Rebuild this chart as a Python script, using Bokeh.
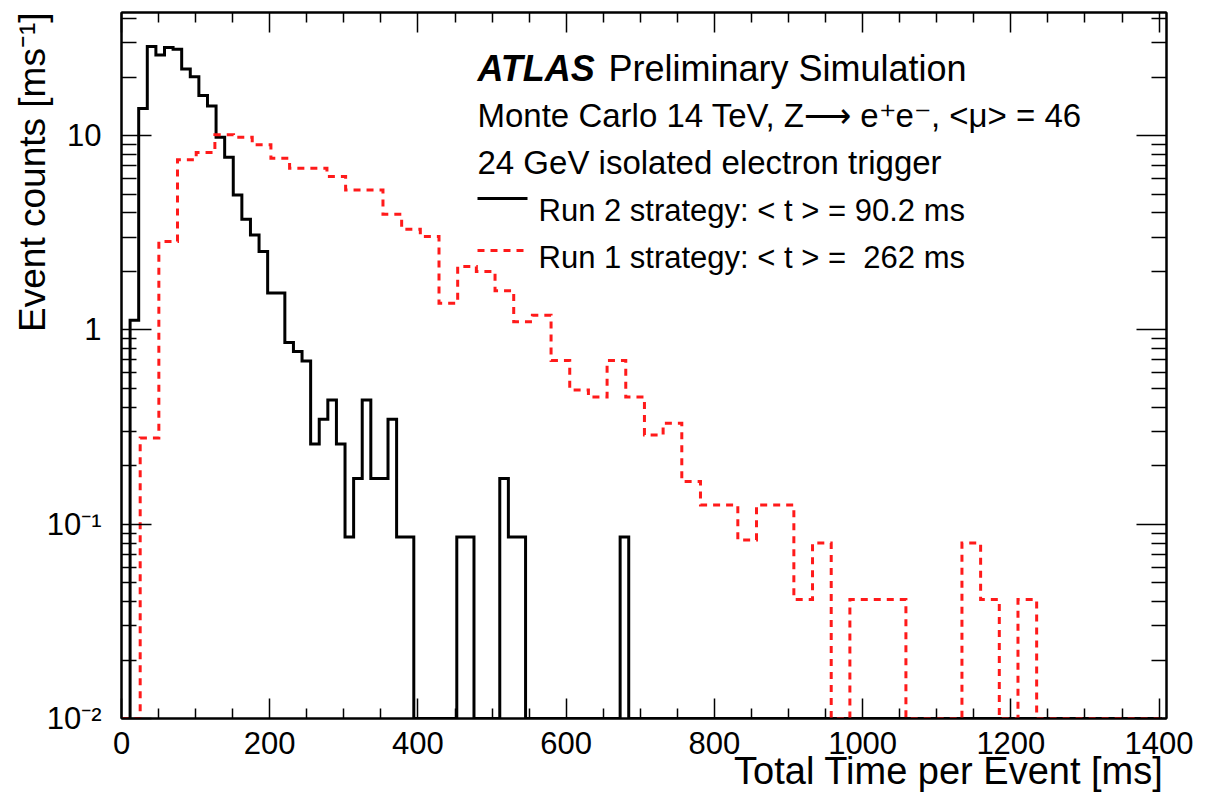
import math
from bokeh.plotting import figure
from bokeh.models import (Range1d, FixedTicker, LinearAxis, LogAxis, Label, Title,
                          CustomJSTickFormatter)
from bokeh.embed import file_html
from bokeh.resources import INLINE

# ---------------- data ----------------
run2_bin_width = 11.6   # ms
run1_bin_width = 25.2   # ms

# Run 2 strategy, event counts per ms, one value per bin starting at 0 ms
run2_values = [0, 1.12, 13.8, 28.7, 26.0, 28.4, 27.8, 22.0, 20.1, 16.1,
               14.2, 9.8, 7.74, 4.95, 3.71, 3.08, 2.53, 1.55, 1.55, 0.861,
               0.773, 0.692, 0.259, 0.347, 0.436, 0.259, 0.086, 0.172, 0.436, 0.172,
               0.172, 0.347, 0.086, 0.086, 0, 0, 0, 0, 0, 0.086,
               0.086, 0, 0, 0, 0.172, 0.086, 0.086, 0, 0, 0,
               0, 0, 0, 0, 0, 0, 0, 0, 0.086] + [0] * 62

# Run 1 strategy
run1_values = [0, 0.278, 2.85, 7.5, 8.18, 10.1, 9.81, 8.96, 7.65, 6.8,
               6.8, 6.15, 5.25, 5.25, 3.94, 3.3, 3.02, 1.37, 2.12, 2.0,
               1.59, 1.10, 1.19, 0.695, 0.491, 0.451, 0.695, 0.451, 0.288, 0.331,
               0.166, 0.1256, 0.1256, 0.083, 0.1256, 0.1256, 0.041, 0.080, 0, 0.041,
               0.041, 0.041, 0, 0, 0, 0.080, 0.041, 0, 0.041, 0,
               0, 0, 0, 0, 0, 0]

x_tick_values = [0, 200, 400, 600, 800, 1000, 1200, 1400]
y_tick_values = [0.01, 0.1, 1, 10]
y_tick_labels = ["10\u207b\u00b2", "10\u207b\u00b9", "1", "10"]

x_title = "Total Time per Event [ms]"
y_title = "Event counts [ms\u207b\u00b9]"
legend_run2 = "Run 2 strategy: < t > = 90.2 ms"
legend_run1 = "Run 1 strategy: < t > =\u00a0 262 ms"
title_lines = ["Monte Carlo 14 TeV, Z\u27f6 e\u207ae\u207b, <\u03bc> = 46",
               "24 GeV isolated electron trigger"]

# ---------------- layout ----------------
W, H = 1205, 796
FL, FR, FT, FB = 121, 1166, 12, 718
X_MAX = 1410.0
Y_MIN, Y_MAX = 0.01, 43.0
FONT = "Liberation Sans"
RED = "#ff1a1a"


def dx(px):
    return (px - FL) / (FR - FL) * X_MAX


def dy(py):
    lo, hi = math.log10(Y_MIN), math.log10(Y_MAX)
    return 10 ** (lo + (FB - py) / (FB - FT) * (hi - lo))


def steps(values, width, floor):
    xs, ys = [], []
    for i, v in enumerate(values):
        v = max(v, floor)
        xs += [i * width, (i + 1) * width]
        ys += [v, v]
    return xs, ys


p = figure(width=W, height=H, x_range=Range1d(0, X_MAX), y_range=Range1d(Y_MIN, Y_MAX),
           y_axis_type="log", output_backend="svg", toolbar_location=None,
           min_border_left=FL, min_border_right=W - FR, min_border_top=FT,
           min_border_bottom=H - FB)
p.frame_width = FR - FL
p.frame_height = FB - FT
p.grid.visible = False
p.outline_line_color = "black"
p.outline_line_width = 2
p.background_fill_color = "white"
p.border_fill_color = "white"

x_minor = [v for v in range(0, 1401, 50) if v % 200 != 0]
y_minor = [m * 10 ** d for d in (-2, -1, 0, 1) for m in range(2, 10) if m * 10 ** d < Y_MAX]
xticker = FixedTicker(ticks=x_tick_values, minor_ticks=x_minor)
yticker = FixedTicker(ticks=y_tick_values, minor_ticks=y_minor)

yfmt = CustomJSTickFormatter(args=dict(vals=y_tick_values, labs=y_tick_labels), code="""
let best = 0, bd = 1e9;
for (let i = 0; i < vals.length; i++) {
  const d = Math.abs(Math.log10(vals[i]) - Math.log10(tick));
  if (d < bd) { bd = d; best = i; }
}
return labs[best];
""")


def style_axis(ax, major, minor, labels=True, standoff=6):
    ax.axis_line_color = "black"
    ax.axis_line_width = 2
    ax.major_tick_in = major
    ax.major_tick_out = 0
    ax.minor_tick_in = minor
    ax.minor_tick_out = 0
    ax.major_tick_line_width = 1.5
    ax.minor_tick_line_width = 1.5
    ax.major_tick_line_color = "black"
    ax.minor_tick_line_color = "black"
    if labels:
        ax.major_label_text_font = FONT
        ax.major_label_text_font_size = "31px"
        ax.major_label_text_color = "black"
        ax.major_label_standoff = standoff
    else:
        ax.major_label_text_font_size = "0px"
        ax.major_label_standoff = 0
        ax.major_label_text_alpha = 0


xa = p.xaxis[0]
xa.ticker = xticker
style_axis(xa, 20, 10, True, 13)
ya = p.yaxis[0]
ya.ticker = yticker
ya.formatter = yfmt
style_axis(ya, 30, 15, True, 20)

top = LinearAxis(ticker=xticker)
style_axis(top, 20, 10, False)
p.add_layout(top, "above")
right = LogAxis(ticker=yticker)
style_axis(right, 30, 15, False)
p.add_layout(right, "right")

# axis titles, right/top aligned as in the reference
p.add_layout(Title(text=x_title, align="right", vertical_align="top", standoff=-14, offset=3,
                   text_font=FONT, text_font_size="38px", text_font_style="normal",
                   text_color="black"), "below")
p.add_layout(Title(text=y_title, align="right", vertical_align="bottom", standoff=-18, offset=0,
                   text_font=FONT, text_font_size="37px", text_font_style="normal",
                   text_color="black"), "left")

# ---------------- histograms ----------------
bx, by = steps(run2_values, run2_bin_width, Y_MIN)
p.line(bx, by, line_color="black", line_width=3, line_join="miter")
rx, ry = steps(run1_values, run1_bin_width, Y_MIN)
p.line(rx, ry, line_color=RED, line_width=3, line_dash="7 6", line_join="miter")

# ---------------- texts ----------------
def label(px, py, text, size="33px", style="normal", align="left"):
    p.add_layout(Label(x=dx(px), y=dy(py), x_units="data", y_units="data", text=text,
                       text_font=FONT, text_font_size=size, text_font_style=style,
                       text_color="black", text_align=align, text_baseline="alphabetic"))


label(477, 68, "ATLAS", size="36px", style="bold italic")
label(608, 68, "Preliminary Simulation", size="36px")
label(477, 115, title_lines[0], size="33px")
label(477, 162, title_lines[1])
label(538, 210, legend_run2, size="31px")
label(538, 257, legend_run1, size="31px")

p.line([dx(477), dx(527)], [dy(198)] * 2, line_color="black", line_width=3)
p.line([dx(477), dx(527)], [dy(250)] * 2, line_color=RED, line_width=3, line_dash="7 6")

open("out.html", "w").write(file_html(p, INLINE))
